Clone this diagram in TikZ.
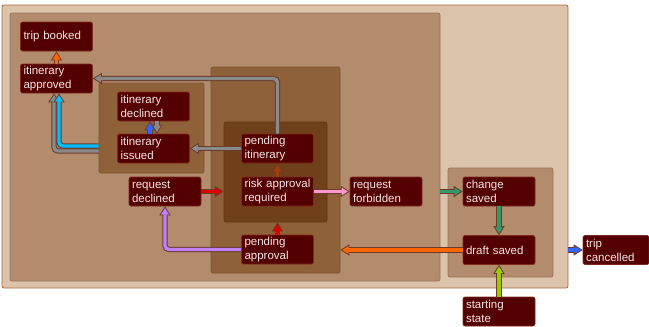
\documentclass[tikz,border=0pt]{standalone}
\usepackage{fontspec}
\setmainfont{Liberation Sans}
\usetikzlibrary{arrows.meta}

\definecolor{outerfill}{HTML}{DCC4AC}
\definecolor{outeredge}{HTML}{A56B3E}
\definecolor{bigfill}{HTML}{B38B6D}
\definecolor{bigedge}{HTML}{9C7458}
\definecolor{midfill}{HTML}{8F6139}
\definecolor{midedge}{HTML}{80552F}
\definecolor{innerfill}{HTML}{70401A}
\definecolor{inneredge}{HTML}{643814}
\definecolor{statefill}{HTML}{550000}
\definecolor{stateedge}{HTML}{7F2A1F}
\definecolor{statetext}{HTML}{F4E6E6}
\definecolor{linkdark}{HTML}{6B3B2B}
\definecolor{cOrange}{HTML}{FF6600}
\definecolor{cGrey}{HTML}{8A8A8A}
\definecolor{cBlue}{HTML}{3366FF}
\definecolor{cCyan}{HTML}{00BFFF}
\definecolor{cRed}{HTML}{DD0000}
\definecolor{cBrown}{HTML}{A0400A}
\definecolor{cPurple}{HTML}{C080FF}
\definecolor{cPink}{HTML}{FF99CC}
\definecolor{cGreen}{HTML}{339966}
\definecolor{cLime}{HTML}{99CC00}

\tikzset{
  cluster/.style={rounded corners=2pt, inner sep=0pt, line width=0.8pt},
  state/.style={fill=statefill, draw=stateedge, line width=0.6pt, rounded corners=2pt,
    text=statetext, font=\fontsize{11.5}{14}\selectfont, align=left,
    text width=66pt, minimum width=72pt, minimum height=29pt,
    inner xsep=3pt, inner ysep=1pt},
  linkouter/.style={draw=linkdark, line width=5.4pt, rounded corners=4pt,
    -{Triangle[length=9pt,width=11pt,fill=#1,line width=0.8pt]}},
  linkinner/.style={draw=#1, line width=3.4pt, rounded corners=4pt, shorten >=8pt}
}

% one connector: dark outline with a filled head, then the coloured core
\newcommand\linkpath[2]{%
  \draw[linkouter={#1}] #2;
  \draw[linkinner={#1}] #2;
}

\begin{document}
\begin{tikzpicture}[x=1pt,y=-1pt]
\useasboundingbox (0,0) rectangle (649,327);

% nested groups
\node[cluster, fill=outerfill, draw=outeredge, minimum width=566pt, minimum height=283pt] (outer) at (285,146.5) {};
\node[cluster, fill=bigfill, draw=bigedge, minimum width=430pt, minimum height=268pt] (big) at (225,147) {};
\node[cluster, fill=midfill, draw=midedge, minimum width=105pt, minimum height=90pt] (itclust) at (151.5,128) {};
\node[cluster, fill=midfill, draw=midedge, minimum width=129pt, minimum height=206pt] (mid) at (275.5,170) {};
\node[cluster, fill=innerfill, draw=inneredge, minimum width=103pt, minimum height=100pt] (inner) at (275.5,172) {};
\node[cluster, fill=bigfill, draw=bigedge, minimum width=105pt, minimum height=109pt] (right) at (500.5,222.5) {};

% states
\node[state] (booked) at (56.5,36.5) {trip booked};
\node[state] (approved) at (56.5,78.5) {itinerary\\approved};
\node[state] (declined) at (153.5,106.5) {itinerary\\declined};
\node[state] (issued) at (153.5,148.5) {itinerary\\issued};
\node[state] (pendit) at (277.5,148.5) {pending\\itinerary};
\node[state] (reqdecl) at (165,191.5) {request\\declined};
\node[state] (risk) at (277.5,191.5) {risk approval\\required};
\node[state] (pendapp) at (277.5,249.5) {pending\\approval};
\node[state] (forbid) at (386,191.5) {request\\forbidden};
\node[state] (change) at (499,191.5) {change\\saved};
\node[state] (draft) at (499,250) {draft saved};
\node[state, text width=60pt, minimum width=66pt] (cancel) at (616,250) {trip\\cancelled};
\node[state] (start) at (499,311.5) {starting\\state};

% connector end points on group borders
\coordinate (gstart) at (itclust.west |- issued.west);
\coordinate (riskin) at (inner.west |- reqdecl.east);
\coordinate (riskbot) at (pendapp.north |- inner.south);
\coordinate (bigout) at (big.east |- change.west);
\coordinate (midin) at (mid.east |- draft.west);
\coordinate (outerout) at (outer.east |- cancel.west);

% transitions
\linkpath{cOrange}{(approved.north) -- (booked.south)}
\linkpath{cGrey}{(pendit.north) |- (approved.east)}
\linkpath{cGrey}{(pendit.west) -- (issued.east)}
\linkpath{cGrey}{([xshift=3.5pt]declined.south) -- ([xshift=3.5pt]issued.north)}
\linkpath{cBlue}{([xshift=-3.5pt]issued.north) -- ([xshift=-3.5pt]declined.south)}
\linkpath{cGrey}{([yshift=-2.5pt]gstart) -| ([xshift=-2.5pt]approved.south)}
\linkpath{cCyan}{([yshift=2.5pt]gstart) -| ([xshift=2.5pt]approved.south)}
\linkpath{cRed}{(reqdecl.east) -- (riskin)}
\linkpath{cBrown}{(risk.north) -- (pendit.south)}
\linkpath{cRed}{(pendapp.north) -- (riskbot)}
\linkpath{cPurple}{(pendapp.west) -| (reqdecl.south)}
\linkpath{cPink}{(risk.east) -- (forbid.west)}
\linkpath{cGreen}{(bigout) -- (change.west)}
\linkpath{cGreen}{(change.south) -- (draft.north)}
\linkpath{cOrange}{(draft.west) -- (midin)}
\linkpath{cBlue}{(outerout) -- (cancel.west)}
\linkpath{cLime}{(start.north) -- (draft.south)}
\end{tikzpicture}
\end{document}
